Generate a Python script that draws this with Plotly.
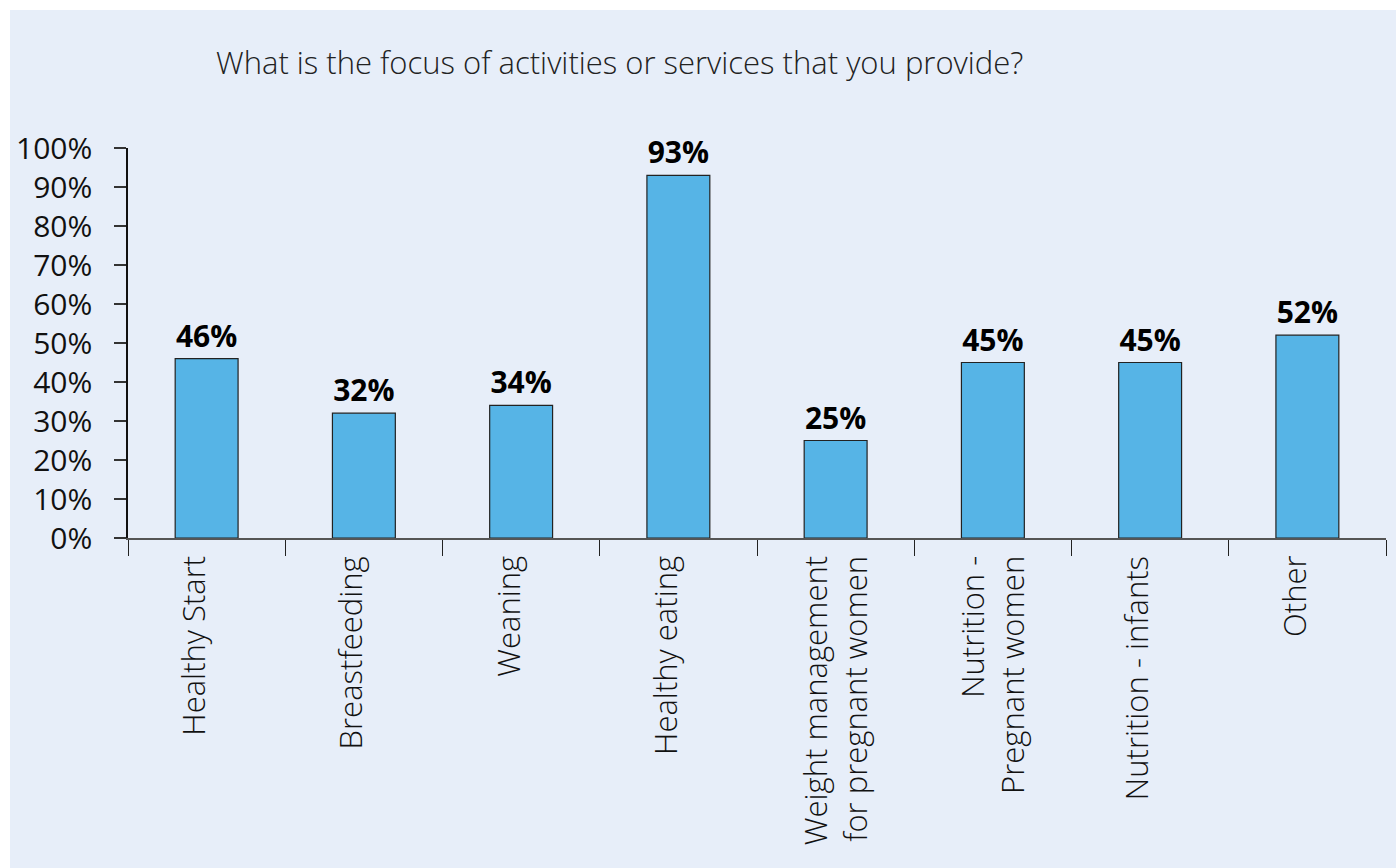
import plotly.graph_objects as go

# Survey responses: share of providers focusing on each activity
categories = [
    "Healthy Start",
    "Breastfeeding",
    "Weaning",
    "Healthy eating",
    "Weight management<br>for pregnant women",
    "Nutrition -<br>Pregnant women",
    "Nutrition - infants",
    "Other",
]
shares = [46, 32, 34, 93, 25, 45, 45, 52]
y_ticks = list(range(0, 101, 10))
y_tick_labels = [f"{v}%" for v in y_ticks]

title_text = "What is the focus of activities or services that you provide?"

W, H = 1396, 868
panel_color = "#E7EEF9"
bar_color = "#56B4E6"
font_family = "'Open Sans', Roboto, sans-serif"

fig = go.Figure(
    go.Bar(
        x=categories,
        y=shares,
        marker=dict(color=bar_color, line=dict(color="#222222", width=1.2)),
        text=[f"{v}%" for v in shares],
        textposition="outside",
        textfont=dict(family=font_family, size=30, color="#000000", weight="bold"),
        cliponaxis=False,
        hoverinfo="skip",
    )
)

ml, mr, mt, mb = 128, 10, 148, 330

# Rotated category labels hanging below the axis; one-line labels sit
# slightly left of the bar centre, two-line labels are centred.
category_labels = [
    dict(
        text=cat,
        x=cat,
        y=0,
        xref="x",
        yref="y",
        textangle=-90,
        xanchor="center",
        yanchor="top",
        align="right",
        xshift=(-1 if "<br>" in cat else -14),
        yshift=-16,
        showarrow=False,
        font=dict(family=font_family, size=31, color="#111111", weight=300),
    )
    for cat in categories
]

fig.update_layout(
    width=W,
    height=H,
    margin=dict(l=ml, r=mr, t=mt, b=mb),
    paper_bgcolor="#FFFFFF",
    plot_bgcolor=panel_color,
    bargap=0.6,
    showlegend=False,
    font=dict(family=font_family, color="#111111"),
    shapes=[
        # light blue backdrop panel, inset from the top and left edges
        dict(
            type="rect",
            xref="paper",
            yref="paper",
            x0=(10 - ml) / (W - ml - mr),
            x1=(W - ml) / (W - ml - mr),
            y0=-(mb) / (H - mt - mb),
            y1=(H - 10 - mb) / (H - mt - mb),
            fillcolor=panel_color,
            line=dict(width=0),
            layer="below",
        )
    ],
    annotations=[
        dict(
            text=title_text,
            xref="paper",
            yref="paper",
            x=(619 - ml) / (W - ml - mr),
            y=(H - 62 - mb) / (H - mt - mb),
            xanchor="center",
            yanchor="middle",
            showarrow=False,
            font=dict(family=font_family, size=31, color="#222222", weight=300),
        )
    ]
    + category_labels,
)

fig.update_xaxes(
    type="category",
    showline=True,
    linecolor="#555555",
    linewidth=2,
    ticks="outside",
    tickson="boundaries",
    ticklen=16,
    tickcolor="#222222",
    tickwidth=1.2,
    showticklabels=False,
    showgrid=False,
    zeroline=False,
)

fig.update_yaxes(
    range=[0, 100],
    tickvals=y_ticks,
    ticktext=y_tick_labels,
    showline=True,
    linecolor="#111111",
    linewidth=1.5,
    ticks="outside",
    ticklen=12,
    tickcolor="#333333",
    tickwidth=1.5,
    ticklabelstandoff=16,
    tickfont=dict(family=font_family, size=30, color="#111111"),
    showgrid=False,
    zeroline=False,
)

fig.write_html("out.html")
